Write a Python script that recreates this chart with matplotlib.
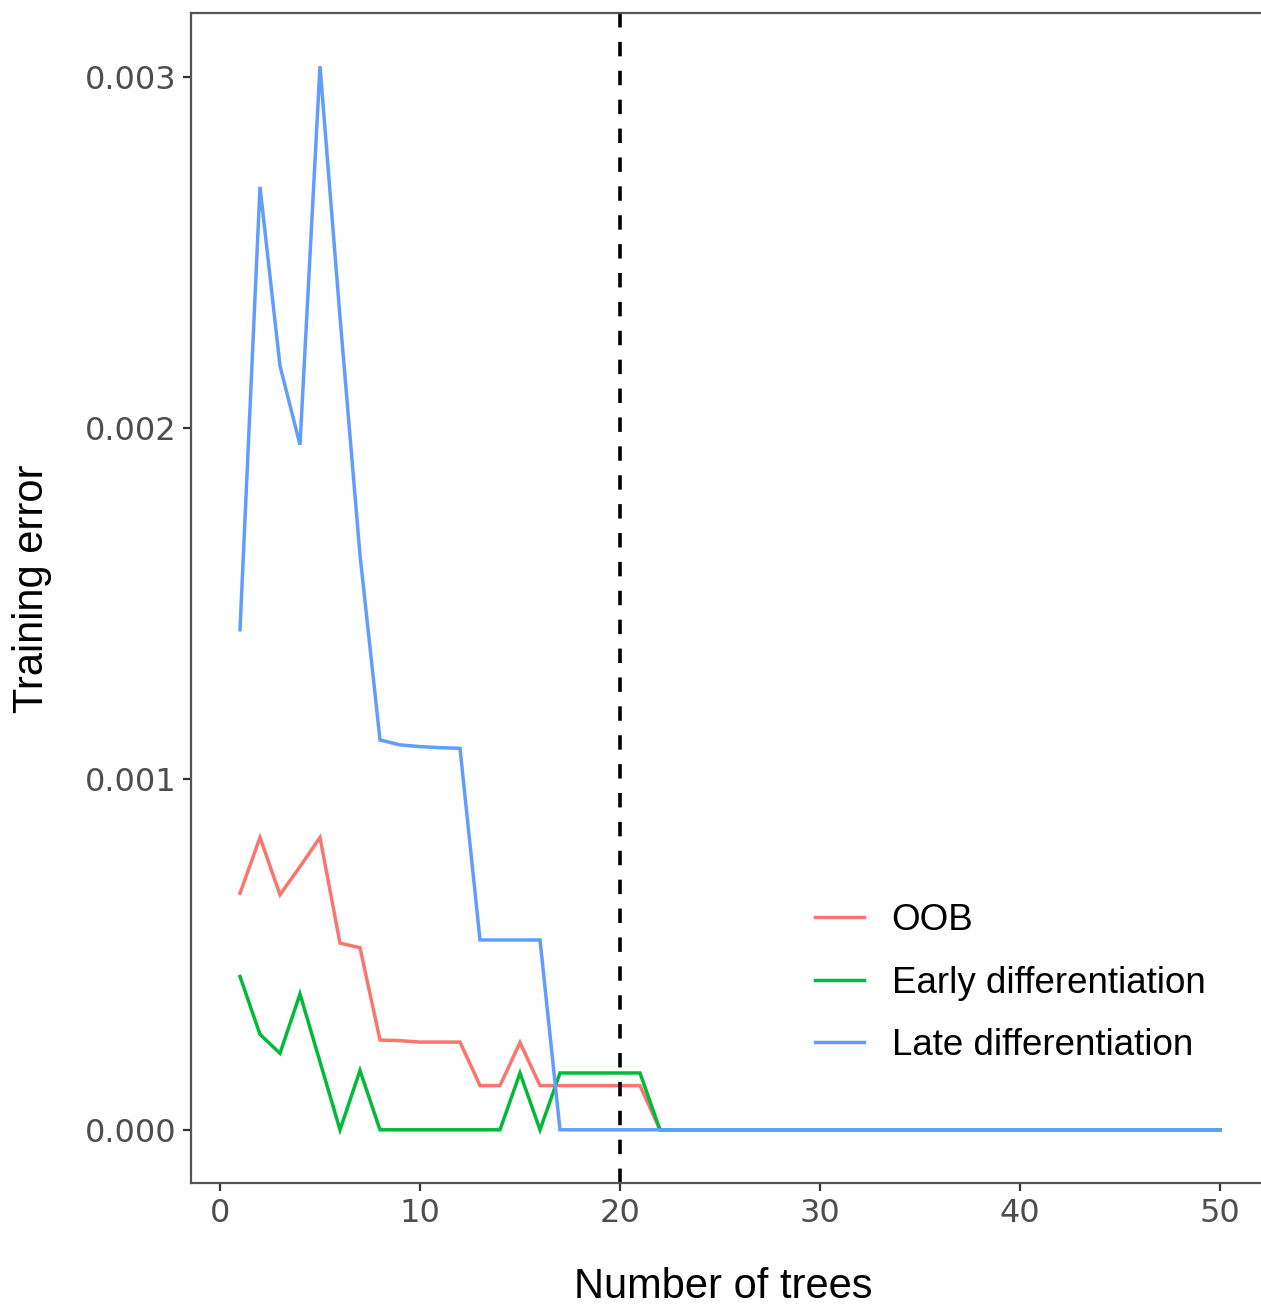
import matplotlib
matplotlib.use("Agg")
import matplotlib.pyplot as plt
import numpy as np

trees = list(range(1, 51))

oob_head = [0.000674, 0.000833, 0.000670, 0.000750, 0.000833, 0.000532, 0.000519,
            0.000256, 0.000254, 0.000250, 0.000250, 0.000250, 0.000126, 0.000126,
            0.000249, 0.000126, 0.000126, 0.000126, 0.000126, 0.000126, 0.000126]
early_head = [0.000437, 0.000272, 0.000218, 0.000387, 0.000194, 0.0, 0.000169,
              0.0, 0.0, 0.0, 0.0, 0.0, 0.0, 0.0,
              0.000162, 0.0, 0.000162, 0.000162, 0.000162, 0.000162, 0.000162]
late_head = [0.001425, 0.002687, 0.002177, 0.001952, 0.003031, 0.002316, 0.001638,
             0.001111, 0.001097, 0.001092, 0.001089, 0.001087, 0.000541, 0.000541,
             0.000541, 0.000541]

oob = oob_head + [0.0] * (50 - len(oob_head))
early = early_head + [0.0] * (50 - len(early_head))
late = late_head + [0.0] * (50 - len(late_head))

series_names = ["OOB", "Early differentiation", "Late differentiation"]
series_colors = ["#F8766D", "#00BA38", "#619CFF"]
xticks = [0, 10, 20, 30, 40, 50]
yticks = [0.000, 0.001, 0.002, 0.003]
cutoff = 20

W, H = 1261, 1306
fig = plt.figure(figsize=(W / 100, H / 100), dpi=100)
ax = fig.add_axes([191 / W, 1 - 1183 / H, 1078 / W, 1170 / H])

for vals, name, col in zip([oob, early, late], series_names, series_colors):
    ax.plot(trees, vals, color=col, lw=2.5, label=name, solid_joinstyle="miter")

ax.axvline(cutoff, color="black", lw=2.6, linestyle=(0, (4.0, 4.0)))

ax.set_xlim(-1.45, 52.45)
ymax = max(late)
ax.set_ylim(-0.05 * ymax, ymax * 1.05)
ax.set_xticks(xticks)
ax.set_yticks(yticks)
ax.set_xticklabels([str(t) for t in xticks])
ax.set_yticklabels([f"{t:.3f}" for t in yticks])

for sp in ax.spines.values():
    sp.set_color("#555555")
    sp.set_linewidth(1.6)
ax.tick_params(axis="both", length=5.5, width=1.6, color="#333333",
               labelcolor="#4D4D4D", labelsize=23, pad=5)
for lab in ax.get_xticklabels() + ax.get_yticklabels():
    lab.set_family("DejaVu Sans")

fig.text(723 / W, 1 - 1287 / H, "Number of trees", ha="center", va="center",
         fontsize=30, family="Liberation Sans", color="black")
fig.text(32 / W, 1 - 589 / H, "Training error", ha="center", va="center",
         rotation=90, fontsize=30, family="Liberation Sans", color="black")

leg = ax.legend(loc="upper left", bbox_to_anchor=(815 / W, 1 - 903 / H),
                bbox_transform=fig.transFigure, frameon=False,
                prop={"family": "Liberation Sans", "size": 26.5},
                handlelength=1.33, handletextpad=0.75, labelspacing=0.75,
                borderpad=0, borderaxespad=0)
for line in leg.get_lines():
    line.set_linewidth(2.5)

fig.savefig("out.png", dpi=100)
